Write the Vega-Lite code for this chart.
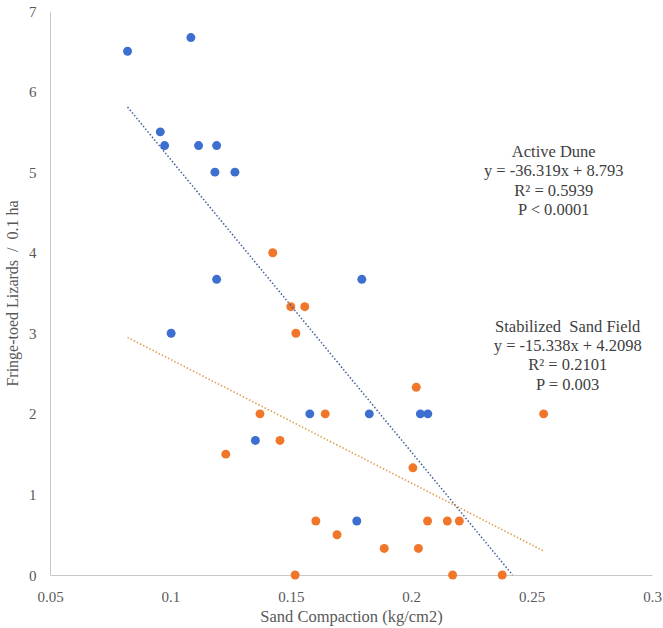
{
  "$schema": "https://vega.github.io/schema/vega-lite/v6.json",
  "width": 602,
  "height": 564,
  "autosize": {"type": "none"},
  "padding": {"left": 50, "top": 11, "right": 11, "bottom": 53},
  "background": "white",
  "config": {
    "view": {"stroke": null},
    "font": "Liberation Serif"
  },
  "layer": [
    {
      "data": {
        "values": [
          {"site": "Active Dune", "x": 0.0822, "y": 6.5},
          {"site": "Active Dune", "x": 0.1085, "y": 6.67},
          {"site": "Active Dune", "x": 0.0958, "y": 5.5},
          {"site": "Active Dune", "x": 0.0976, "y": 5.33},
          {"site": "Active Dune", "x": 0.1117, "y": 5.33},
          {"site": "Active Dune", "x": 0.1192, "y": 5.33},
          {"site": "Active Dune", "x": 0.1185, "y": 5.0},
          {"site": "Active Dune", "x": 0.1268, "y": 5.0},
          {"site": "Active Dune", "x": 0.1192, "y": 3.67},
          {"site": "Active Dune", "x": 0.1003, "y": 3.0},
          {"site": "Active Dune", "x": 0.1795, "y": 3.67},
          {"site": "Active Dune", "x": 0.1579, "y": 2.0},
          {"site": "Active Dune", "x": 0.1353, "y": 1.67},
          {"site": "Active Dune", "x": 0.1826, "y": 2.0},
          {"site": "Active Dune", "x": 0.2038, "y": 2.0},
          {"site": "Active Dune", "x": 0.2069, "y": 2.0},
          {"site": "Active Dune", "x": 0.1774, "y": 0.67},
          {"site": "Stabilized Sand Field", "x": 0.1425, "y": 4.0},
          {"site": "Stabilized Sand Field", "x": 0.15, "y": 3.33},
          {"site": "Stabilized Sand Field", "x": 0.1558, "y": 3.33},
          {"site": "Stabilized Sand Field", "x": 0.1521, "y": 3.0},
          {"site": "Stabilized Sand Field", "x": 0.1372, "y": 2.0},
          {"site": "Stabilized Sand Field", "x": 0.1643, "y": 2.0},
          {"site": "Stabilized Sand Field", "x": 0.1455, "y": 1.67},
          {"site": "Stabilized Sand Field", "x": 0.123, "y": 1.5},
          {"site": "Stabilized Sand Field", "x": 0.1604, "y": 0.67},
          {"site": "Stabilized Sand Field", "x": 0.1518, "y": 0.0},
          {"site": "Stabilized Sand Field", "x": 0.2021, "y": 2.33},
          {"site": "Stabilized Sand Field", "x": 0.255, "y": 2.0},
          {"site": "Stabilized Sand Field", "x": 0.2007, "y": 1.33},
          {"site": "Stabilized Sand Field", "x": 0.1692, "y": 0.5},
          {"site": "Stabilized Sand Field", "x": 0.2068, "y": 0.67},
          {"site": "Stabilized Sand Field", "x": 0.215, "y": 0.67},
          {"site": "Stabilized Sand Field", "x": 0.22, "y": 0.67},
          {"site": "Stabilized Sand Field", "x": 0.1888, "y": 0.33},
          {"site": "Stabilized Sand Field", "x": 0.203, "y": 0.33},
          {"site": "Stabilized Sand Field", "x": 0.2172, "y": 0.0},
          {"site": "Stabilized Sand Field", "x": 0.2378, "y": 0.0}
        ]
      },
      "mark": {"type": "circle", "size": 80, "opacity": 1},
      "encoding": {
        "x": {
          "field": "x",
          "type": "quantitative",
          "scale": {"domain": [0.05, 0.3], "nice": false, "zero": false},
          "axis": {
            "title": "Sand Compaction (kg/cm2)",
            "values": [0.05, 0.1, 0.15, 0.2, 0.25, 0.3],
            "format": ".2~f",
            "grid": false,
            "ticks": false,
            "domainColor": "#c8c8c8",
            "labelColor": "#595959",
            "labelFont": "Liberation Serif",
            "labelFontSize": 15,
            "labelPadding": 14,
            "labelFlush": false,
            "titleColor": "#595959",
            "titleFont": "Liberation Serif",
            "titleFontSize": 16.5,
            "titleFontWeight": "normal",
            "titlePadding": 4
          }
        },
        "y": {
          "field": "y",
          "type": "quantitative",
          "scale": {"domain": [0, 7], "nice": false},
          "axis": {
            "title": "Fringe-toed Lizards \u00a0/ \u00a00.1 ha",
            "values": [0, 1, 2, 3, 4, 5, 6, 7],
            "format": "d",
            "grid": false,
            "ticks": false,
            "domainColor": "#c8c8c8",
            "labelColor": "#595959",
            "labelFont": "Liberation Serif",
            "labelFontSize": 15,
            "labelPadding": 14,
            "labelFlush": false,
            "titleColor": "#595959",
            "titleFont": "Liberation Serif",
            "titleFontSize": 16,
            "titleFontWeight": "normal",
            "titlePadding": 8
          }
        },
        "color": {
          "field": "site",
          "type": "nominal",
          "scale": {"domain": ["Active Dune", "Stabilized Sand Field"], "range": ["#3d6fd0", "#f0772a"]},
          "legend": null
        }
      }
    },
    {
      "data": {
        "values": [
          {"site": "Active Dune", "x": 0.0822, "y": 5.808},
          {"site": "Active Dune", "x": 0.2421, "y": 0.0},
          {"site": "Stabilized Sand Field", "x": 0.0822, "y": 2.949},
          {"site": "Stabilized Sand Field", "x": 0.255, "y": 0.298}
        ]
      },
      "mark": {"type": "line", "strokeWidth": 1.5, "strokeDash": [1.5, 2]},
      "encoding": {
        "x": {"field": "x", "type": "quantitative"},
        "y": {"field": "y", "type": "quantitative"},
        "detail": {"field": "site"},
        "stroke": {
          "field": "site",
          "type": "nominal",
          "scale": {"domain": ["Active Dune", "Stabilized Sand Field"], "range": ["#3f5f9c", "#e09a45"]},
          "legend": null
        }
      }
    },
    {
      "data": {
        "values": [
          {"t": "Active Dune", "x": 0.2592, "y": 5.25},
          {"t": "y = -36.319x + 8.793", "x": 0.2592, "y": 5.01},
          {"t": "R² = 0.5939", "x": 0.2592, "y": 4.77},
          {"t": "P < 0.0001", "x": 0.2592, "y": 4.53},
          {"t": "Stabilized \u00a0Sand Field", "x": 0.265, "y": 3.08},
          {"t": "y = -15.338x + 4.2098", "x": 0.265, "y": 2.845},
          {"t": "R² = 0.2101", "x": 0.265, "y": 2.605},
          {"t": "P = 0.003", "x": 0.265, "y": 2.36}
        ]
      },
      "mark": {"type": "text", "font": "Liberation Serif", "fontSize": 16.5, "color": "#404040", "align": "center", "baseline": "middle"},
      "encoding": {
        "x": {"field": "x", "type": "quantitative"},
        "y": {"field": "y", "type": "quantitative"},
        "text": {"field": "t"}
      }
    }
  ]
}
